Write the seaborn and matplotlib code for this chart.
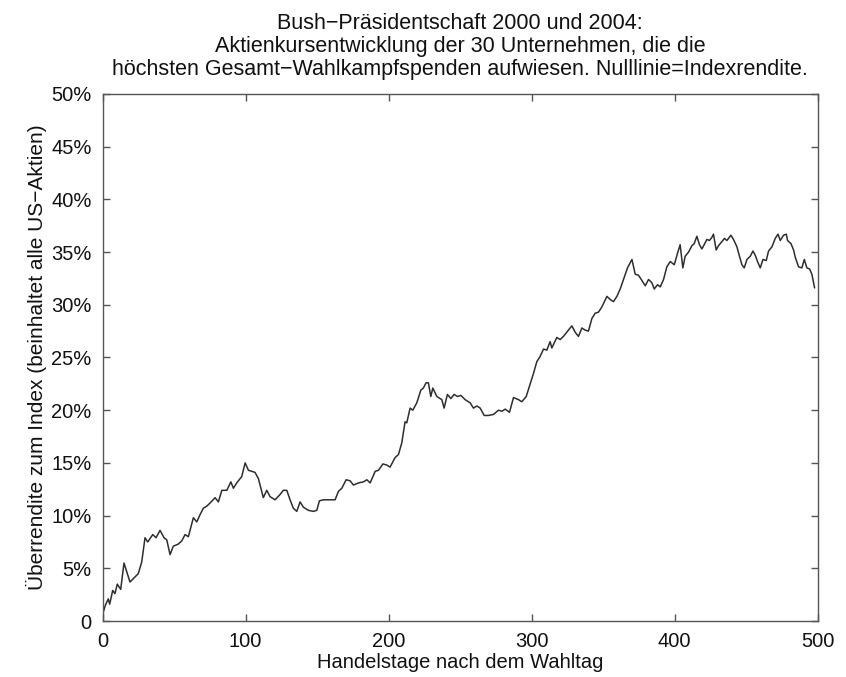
import matplotlib
matplotlib.use("Agg")
import matplotlib.pyplot as plt
import seaborn as sns
import pandas as pd
from matplotlib.ticker import FixedLocator, FixedFormatter

# ---- data ----
days = [0, 2, 4, 5, 7.1, 8.7, 10.3, 12.7, 15.0, 19.2, 25.0, 27.4, 29.7, 31.6, 35.1, 37.4,
        40.2, 43.0, 44.9, 47.2, 49.5, 53.0, 55.4, 57.7, 60.0, 63.5, 65.9, 68.2, 70.5, 72.9,
        75.2, 78.7, 81.0, 83.4, 86.9, 89.7, 91.5, 93.8, 97.3, 99.7, 102, 104.3, 106.6, 109,
        112.4, 114.8, 117.1, 120.6, 124.1, 126.4, 128.8, 131.1, 133.4, 135.8, 138.1, 140.4,
        143.9, 147.4, 149.8, 151.6, 154.4, 159.1, 162.6, 164.9, 167.3, 170.3, 173.1, 175.4,
        178.9, 182.4, 184.8, 187.1, 190.6, 192.9, 196, 198.7, 201, 204.5, 206.9, 209.2,
        211.5, 212.7, 215, 216.9, 219.7, 222.5, 224.3, 226.2, 227.8, 229.5, 230.9, 233.7,
        237.2, 238.8, 241.1, 243.5, 245.8, 248.1, 250.5, 253.5, 257, 259.3, 261.7, 264,
        266.8, 269.8, 273.3, 276.8, 279.2, 281.5, 284.5, 287.3, 290.8, 293.1, 296.2, 298.5,
        301.3, 303.6, 305.9, 308.3, 310.6, 312.9, 314.1, 317.6, 319.9, 322.2, 324.6, 328.1,
        330.4, 332.7, 335.1, 337.4, 339.7, 342.1, 344.4, 346.7, 349.1, 352.6, 354.9, 357.2,
        359.6, 361.9, 364.2, 367, 370.1, 372.4, 374.7, 377.1, 379.4, 381.7, 384, 385.7, 388,
        389.9, 392.2, 394.5, 396.9, 399.7, 402,
        403.8, 405.7, 407.3, 409.7, 412, 413.6, 415.5, 417.3, 419, 420.6, 422.5, 424.3, 426,
        427.1, 429, 430.6, 433, 434.8, 436.5, 439.3, 441.1, 443.5, 445.3, 447, 448.6, 450.5,
        452.8, 454.7, 456.3, 457.9, 459.8, 461.7, 464, 465.6, 468, 470.3, 472.2, 473.8,
        476.1, 478, 478.9, 481.3, 483.1, 484.3, 486.6, 488.9, 490.6, 492.4, 494.3, 495.9,
        497.8]

excess_pct = [0.6, 1.5, 2.1, 1.6, 2.9, 2.6, 3.5, 3.0, 5.5, 3.7, 4.5, 5.6, 7.9, 7.5, 8.2, 7.9,
              8.6, 7.9, 7.7, 6.3, 7.1, 7.3, 7.6, 8.2, 8.0, 9.8, 9.4, 10.1, 10.7, 10.9,
              11.2, 11.7, 11.3, 12.4, 12.4, 13.2, 12.6, 13.1, 13.7, 15.0, 14.3, 14.2, 14.1, 13.5,
              11.7, 12.4, 11.8, 11.5, 12.0, 12.4, 12.4, 11.5, 10.7, 10.4, 11.3, 10.8,
              10.5, 10.4, 10.5, 11.4, 11.5, 11.5, 11.5, 12.3, 12.6, 13.4, 13.3, 12.9,
              13.1, 13.2, 13.4, 13.1, 14.2, 14.3, 14.9, 14.8, 14.6, 15.5, 15.8, 16.9,
              18.9, 18.8, 20.2, 20.0, 20.7, 21.9, 22.1, 22.6, 22.6, 21.3, 22.1, 21.3,
              21.0, 20.2, 21.5, 21.1, 21.5, 21.3, 21.4, 21.0, 20.7, 20.2, 20.4, 20.2,
              19.5, 19.5, 19.6, 20.0, 19.9, 20.1, 19.8, 21.2, 21.0, 20.8, 21.3, 22.3,
              23.5, 24.6, 25.1, 25.8, 25.7, 26.5, 25.9, 26.9, 26.7, 27.0, 27.4, 28.0,
              27.4, 27.0, 27.8, 27.6, 27.5, 28.7, 29.2, 29.3, 29.8, 30.8, 30.5, 30.3,
              30.8, 31.5, 32.4, 33.5, 34.3, 32.9, 32.8, 32.3, 31.8, 32.4, 32.1, 31.5, 31.9,
              31.7, 32.4, 33.6, 34.1, 33.8, 34.9,
              35.7, 33.5, 34.6, 35.0, 35.6, 35.8, 36.5, 35.7, 35.3, 35.7, 36.2, 36.1, 36.4,
              36.7, 35.2, 35.6, 36.0, 36.3, 36.1, 36.6, 36.2, 35.5, 34.6, 33.8, 33.5, 34.3,
              34.6, 35.1, 34.7, 34.1, 33.5, 34.3, 34.2, 35.1, 35.5, 36.3, 36.7, 36.1,
              36.6, 36.7, 36.1, 35.8, 35.2, 34.5, 33.6, 33.5, 34.3, 33.5, 33.4, 32.9,
              31.6]

x_ticks = [0, 100, 200, 300, 400, 500]
y_ticks = [0, 5, 10, 15, 20, 25, 30, 35, 40, 45, 50]
y_tick_labels = ["0", "5%", "10%", "15%", "20%", "25%", "30%", "35%", "40%", "45%", "50%"]

title_text = ("Bush\u2212Präsidentschaft 2000 und 2004:\n"
              "Aktienkursentwicklung der 30 Unternehmen, die die\n"
              "höchsten Gesamt\u2212Wahlkampfspenden aufwiesen. Nulllinie=Indexrendite.")
x_label = "Handelstage nach dem Wahltag"
y_label = "Überrendite zum Index (beinhaltet alle US\u2212Aktien)"

# ---- plotting ----
sns.set_theme(style="white")
plt.rcParams["font.family"] = ["Liberation Sans", "DejaVu Sans"]
plt.rcParams["font.size"] = 14

df = pd.DataFrame({"day": days, "excess": excess_pct})

fig = plt.figure(figsize=(8.46, 6.77), dpi=100)
ax = fig.add_axes([0.1212, 0.0827, 0.8454, 0.7785])

sns.lineplot(data=df, x="day", y="excess", ax=ax, color="#2e2e2e", linewidth=1.1)

ax.set_xlim(0, 500)
ax.set_ylim(0, 50)
ax.xaxis.set_major_locator(FixedLocator(x_ticks))
ax.set_xticklabels([str(t) for t in x_ticks])
ax.yaxis.set_major_locator(FixedLocator(y_ticks))
ax.yaxis.set_major_formatter(FixedFormatter(y_tick_labels))

ax.tick_params(axis="both", which="major", direction="in", length=5, width=1.0,
               color="#555555", labelsize=14.5, labelcolor="#111111", pad=8,
               top=True, right=True, bottom=True, left=True)
for sp in ax.spines.values():
    sp.set_visible(True)
    sp.set_color("#555555")
    sp.set_linewidth(1.0)

ax.set_xlabel(x_label, fontsize=14.5, color="#111111", labelpad=1)
ax.set_ylabel(y_label, fontsize=15, color="#111111", labelpad=3)
ax.set_title(title_text, fontsize=15.5, color="#111111", pad=14, linespacing=1.12)

fig.savefig("out.png", dpi=100)
